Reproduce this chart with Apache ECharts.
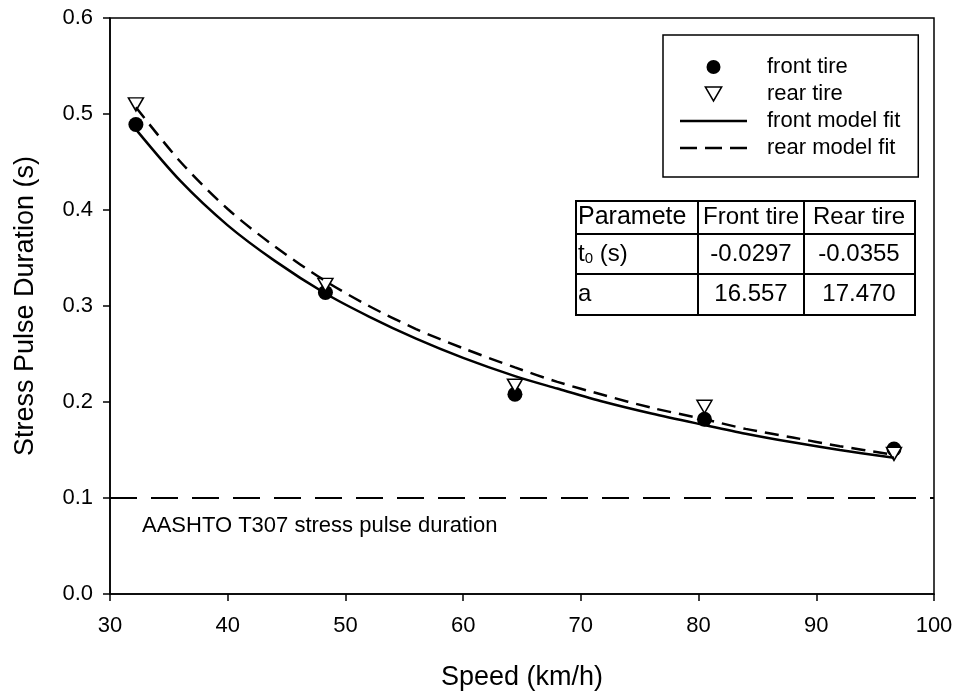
<!DOCTYPE html>
<html>
<head>
<meta charset="utf-8">
<script src="https://cdn.jsdelivr.net/npm/echarts@6/dist/echarts.min.js"></script>
<style>
  html, body { margin: 0; padding: 0; background: #fff; }
  #main { width: 954px; height: 694px; }
</style>
</head>
<body>
<div id="main"></div>
<script>
// measured points
var speedPts = [32.2, 48.3, 64.4, 80.5, 96.6];
var frontPts = [0.489, 0.314, 0.208, 0.182, 0.151];
var rearPts = [0.510, 0.322, 0.217, 0.195, 0.146];

// model fit curves
var fitSpeed = [32.2, 36, 40, 44, 48.3, 52, 56, 60, 64.4, 68, 72, 76, 80.5, 84, 88, 92, 96.6];
var frontFit = [0.484, 0.430, 0.384, 0.347, 0.313, 0.289, 0.266, 0.246, 0.227, 0.214, 0.200, 0.188, 0.176, 0.167, 0.158, 0.150, 0.142];
var rearFit = [0.507, 0.450, 0.401, 0.362, 0.326, 0.300, 0.276, 0.256, 0.236, 0.221, 0.207, 0.194, 0.182, 0.172, 0.163, 0.154, 0.145];

// AASHTO reference line
var limitX = [30, 100];
var limitY = [0.1, 0.1];
var limitText = 'AASHTO T307 stress pulse duration';

// table of fit parameters
var tableHeader = ['Paramete', 'Front tire', 'Rear tire'];
var tableT0 = ['t0 (s)', '-0.0297', '-0.0355'];
var tableA = ['a', '16.557', '17.470'];

var FONT = "'Liberation Sans', Arial, sans-serif";

function pairs(xs, ys) {
  var out = [];
  for (var i = 0; i < xs.length; i++) out.push([xs[i], ys[i]]);
  return out;
}

// table drawn as graphic elements
function buildTable() {
  var colX = [575, 698, 804, 914];
  var rowY = [200, 234, 274, 314];
  var rows = [tableHeader, tableT0, tableA];
  var els = [];
  els.push({
    type: 'rect', left: colX[0], top: rowY[0],
    shape: { width: colX[3] - colX[0], height: rowY[3] - rowY[0] },
    style: { fill: '#fff', stroke: '#000', lineWidth: 2 }, z: 10
  });
  for (var c = 1; c < 3; c++) {
    els.push({ type: 'line', shape: { x1: colX[c], y1: rowY[0], x2: colX[c], y2: rowY[3] },
      style: { stroke: '#000', lineWidth: 2 }, z: 11 });
  }
  for (var r = 1; r < 3; r++) {
    els.push({ type: 'line', shape: { x1: colX[0], y1: rowY[r], x2: colX[3], y2: rowY[r] },
      style: { stroke: '#000', lineWidth: 2 }, z: 11 });
  }
  for (var i = 0; i < rows.length; i++) {
    var cy = (rowY[i] + rowY[i + 1]) / 2;
    for (var j = 0; j < 3; j++) {
      var txt = rows[i][j];
      var rich = null;
      var fs = (i === 0 && j === 0) ? 25 : 24;
      if (i === 1 && j === 0) {
        // t with subscript 0
        txt = '{n|t}{s|0}{n|' + tableT0[0].slice(2) + '}';
        rich = { n: { fontSize: 24, fontFamily: FONT, fill: '#000' },
                 s: { fontSize: 15, fontFamily: FONT, fill: '#000', padding: [10, 0, 0, 0] } };
      }
      var x, align;
      if (j === 0) { x = colX[0] + 3; align = 'left'; }
      else { x = (colX[j] + colX[j + 1]) / 2; align = 'center'; }
      var st = { text: txt, x: x, y: cy, fill: '#000', fontSize: fs, fontFamily: FONT,
        align: align, verticalAlign: 'middle' };
      if (rich) st.rich = rich;
      els.push({ type: 'text', style: st, z: 12 });
    }
  }
  return els;
}

var chart = echarts.init(document.getElementById('main'));

var option = {
  backgroundColor: '#fff',
  animation: false,
  textStyle: { fontFamily: FONT, color: '#000' },
  grid: {
    left: 110, right: 20, top: 18, bottom: 100,
    outerBoundsMode: 'none', containLabel: false,
    show: true, borderColor: '#000', borderWidth: 1.5, backgroundColor: 'transparent'
  },
  legend: {
    orient: 'vertical',
    left: 663, top: 35,
    padding: [21, 18, 18, 17],
    borderColor: '#000', borderWidth: 1.5,
    backgroundColor: '#fff',
    itemWidth: 67, itemHeight: 14, itemGap: 5,
    symbolKeepAspect: true,
    textStyle: { fontSize: 22, fontFamily: FONT, color: '#000', padding: [0, 0, 0, 15] },
    data: [
      { name: 'front tire', icon: 'circle', itemStyle: { color: '#000', opacity: 1 } },
      { name: 'rear tire', icon: 'path://M0,0L14,0L7,12Z',
        itemStyle: { color: '#fff', borderColor: '#000', borderWidth: 1.5, opacity: 1 } },
      { name: 'front model fit', icon: 'path://M0,0L67,0L67,2.5L0,2.5Z',
        itemStyle: { color: '#000', opacity: 1, borderWidth: 0 } },
      { name: 'rear model fit',
        icon: 'path://M0,0L17,0L17,2.5L0,2.5Z M25,0L42,0L42,2.5L25,2.5Z M50,0L67,0L67,2.5L50,2.5Z',
        itemStyle: { color: '#000', opacity: 1, borderWidth: 0 } }
    ]
  },
  xAxis: {
    type: 'value', min: 30, max: 100, interval: 10,
    name: 'Speed (km/h)', nameLocation: 'middle', nameGap: 70,
    nameTextStyle: { fontSize: 27, fontFamily: FONT, color: '#000' },
    axisLine: { lineStyle: { color: '#000', width: 1.5 } },
    axisTick: { inside: false, length: 7, lineStyle: { color: '#000', width: 1.5 } },
    axisLabel: { fontSize: 22, fontFamily: FONT, color: '#000', margin: 21 },
    splitLine: { show: false }
  },
  yAxis: {
    type: 'value', min: 0, max: 0.6, interval: 0.1,
    name: 'Stress Pulse Duration (s)', nameLocation: 'middle', nameGap: 71,
    nameTextStyle: { fontSize: 27, fontFamily: FONT, color: '#000' },
    axisLine: { lineStyle: { color: '#000', width: 1.5 } },
    axisTick: { inside: false, length: 7, lineStyle: { color: '#000', width: 1.5 } },
    axisLabel: { fontSize: 22, fontFamily: FONT, color: '#000', margin: 17,
      formatter: function (v) { return v.toFixed(1); } },
    splitLine: { show: false }
  },
  graphic: buildTable().concat([{
    type: 'text', left: 142, top: 515, z: 5,
    style: { text: limitText, fontSize: 22, fontFamily: FONT, fill: '#000' }
  }]),
  series: [
    {
      name: 'AASHTO', type: 'line', data: pairs(limitX, limitY),
      symbol: 'none', silent: true, z: 1,
      lineStyle: { color: '#000', width: 2, type: [27, 14] }
    },
    {
      name: 'front tire', type: 'scatter', data: pairs(speedPts, frontPts),
      symbol: 'circle', symbolSize: 15, z: 2,
      itemStyle: { color: '#000', opacity: 1 }
    },
    {
      name: 'rear tire', type: 'scatter', data: pairs(speedPts, rearPts),
      symbol: 'triangle', symbolRotate: 180, symbolSize: [15, 13], z: 2,
      itemStyle: { color: '#fff', borderColor: '#000', borderWidth: 1.5, opacity: 1 }
    },
    {
      name: 'front model fit', type: 'line', data: pairs(fitSpeed, frontFit),
      symbol: 'none', smooth: 0.3, z: 3,
      itemStyle: { color: '#000' },
      lineStyle: { color: '#000', width: 2.5 }
    },
    {
      name: 'rear model fit', type: 'line', data: pairs(fitSpeed, rearFit),
      symbol: 'none', smooth: 0.3, z: 3,
      itemStyle: { color: '#000' },
      lineStyle: { color: '#000', width: 2.5, type: [14, 8] }
    }
  ]
};

chart.setOption(option);
</script>
</body>
</html>
